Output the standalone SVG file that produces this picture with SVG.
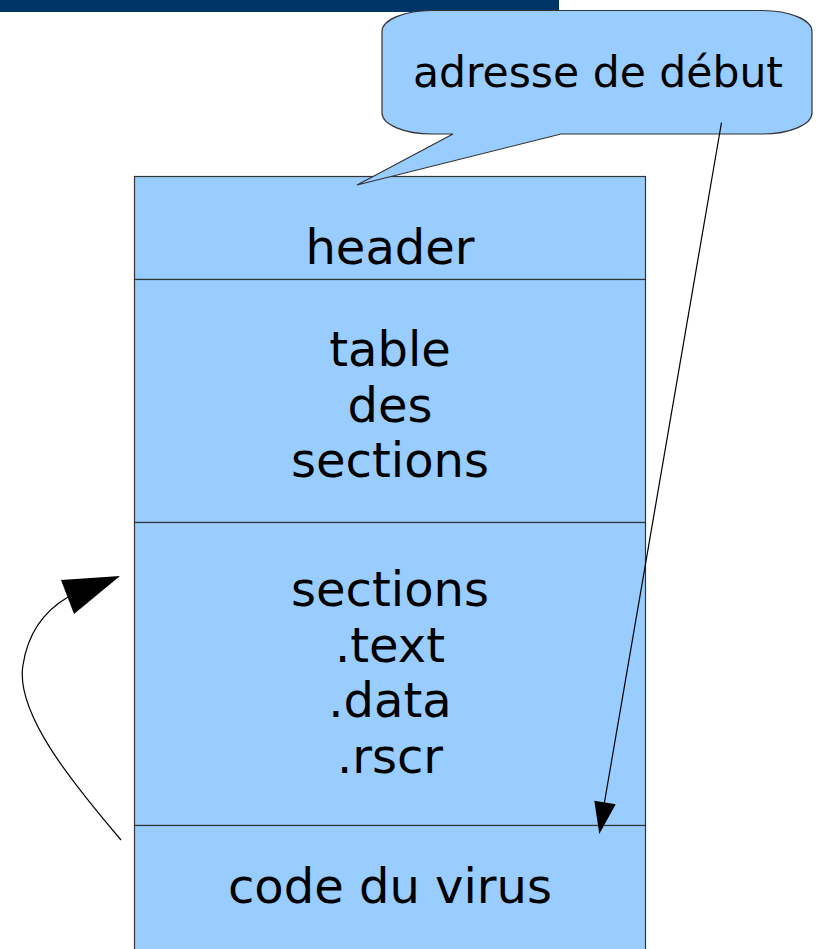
<svg xmlns="http://www.w3.org/2000/svg" width="821" height="949" viewBox="0 0 821 949">
  <style>
    .box { fill: #99ccff; stroke: #333333; stroke-width: 1.2; }
    .lbl { font-family: "DejaVu Sans", "Liberation Sans", sans-serif; font-size: 48px; fill: #000000; text-anchor: middle; }
    .callout-lbl { font-size: 42.5px; }
    .wire { fill: none; stroke: #000000; stroke-width: 1.2; }
    .head { fill: #000000; stroke: none; }
  </style>

  <!-- title bar strip -->
  <rect x="0" y="0" width="559" height="12" fill="#003567"/>

  <!-- executable layout blocks -->
  <g id="header">
    <rect class="box" x="134.5" y="176.5" width="511" height="103"/>
    <text class="lbl" x="390" y="264">header</text>
  </g>

  <g id="section-table">
    <rect class="box" x="134.5" y="279.5" width="511" height="243"/>
    <text class="lbl" x="390" y="366">table</text>
    <text class="lbl" x="390" y="422">des</text>
    <text class="lbl" x="390" y="477">sections</text>
  </g>

  <g id="sections">
    <rect class="box" x="134.5" y="522.5" width="511" height="303"/>
    <text class="lbl" x="390" y="606">sections</text>
    <text class="lbl" x="390" y="662">.text</text>
    <text class="lbl" x="390" y="717">.data</text>
    <text class="lbl" x="390" y="773">.rscr</text>
  </g>

  <g id="virus-code">
    <rect class="box" x="134.5" y="825.5" width="511" height="140"/>
    <text class="lbl" x="390" y="903">code du virus</text>
  </g>

  <!-- speech-bubble callout; its tail overlaps the header block -->
  <g id="callout">
    <path class="box" d="M 432,10.5 H 762 A 50 21 0 0 1 812,31.5 V 113 A 50 21 0 0 1 762,134 H 561 L 357,185 L 453,134 H 432 A 50 21 0 0 1 382,113 V 31.5 A 50 21 0 0 1 432,10.5 Z"/>
    <text class="lbl callout-lbl" x="598" y="87">adresse de début</text>
  </g>

  <!-- connectors -->
  <g id="connectors">
    <!-- entry point redirected to the appended code -->
    <line class="wire" x1="721.5" y1="122.5" x2="604" y2="805"/>
    <polygon class="head" points="599.3,834 594.3,800.7 615.7,804.3"/>

    <!-- jump back into the original sections -->
    <path class="wire" d="M 121,840 C 70,780 15,712 23,665 C 28,632 46,610 68,597"/>
    <polygon class="head" points="120,576 61,580 74,614"/>
  </g>
</svg>
